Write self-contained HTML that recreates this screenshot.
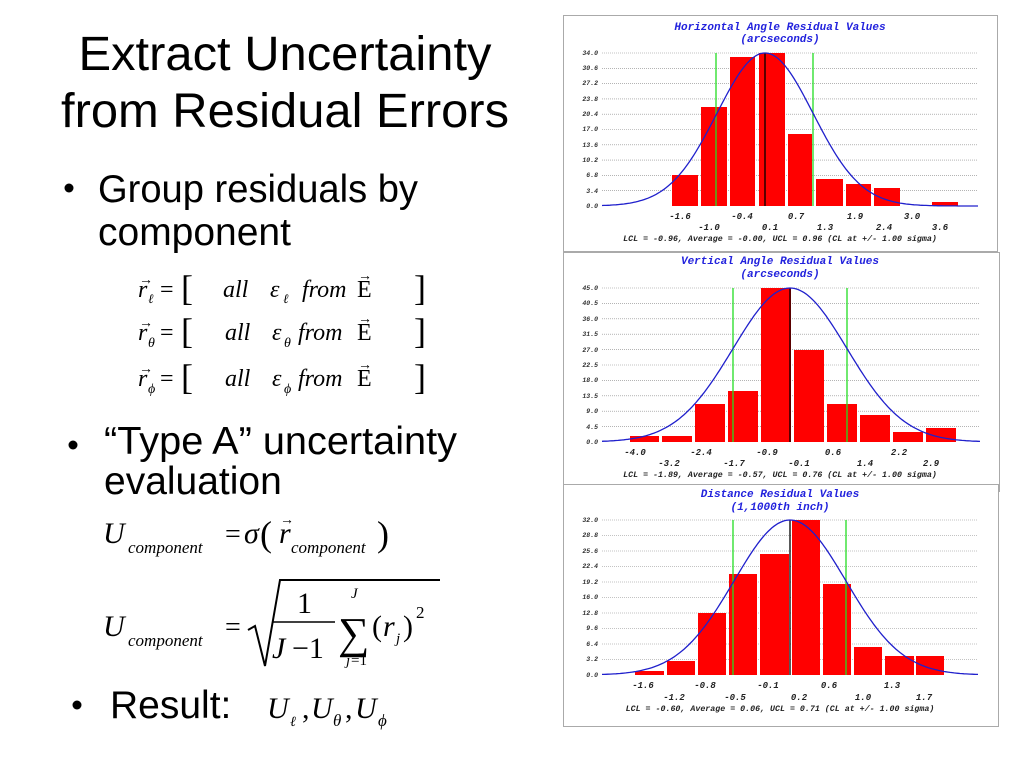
<!DOCTYPE html>
<html><head><meta charset="utf-8"><style>
html,body{margin:0;padding:0;background:#fff;width:1024px;height:768px;overflow:hidden}
svg{display:block}
.t{font-family:"Liberation Sans",Arial,sans-serif;fill:#000}
.m{font-family:"Liberation Serif",serif;font-style:italic;fill:#000}
.r{font-family:"Liberation Serif",serif;fill:#000}
.ti{font-family:"Liberation Mono",monospace;font-weight:bold;font-style:italic;fill:#2222dd;font-size:11px}
.yl{font-family:"Liberation Mono",monospace;font-weight:bold;font-style:italic;fill:#333;font-size:6.5px}
.xl{font-family:"Liberation Mono",monospace;font-weight:bold;font-style:italic;fill:#222;font-size:9px}
.ft{font-family:"Liberation Mono",monospace;font-weight:bold;font-style:italic;fill:#222;font-size:8.3px}
.g{stroke:#888;stroke-width:0.6;stroke-dasharray:1 1}
.bar{fill:#ff0000}
</style></head><body>
<svg width="1024" height="768" viewBox="0 0 1024 768" xmlns="http://www.w3.org/2000/svg">
<text class="t" x="285" y="70" font-size="48" text-anchor="middle" textLength="413" lengthAdjust="spacingAndGlyphs">Extract Uncertainty</text>
<text class="t" x="285" y="127" font-size="48" text-anchor="middle" textLength="448" lengthAdjust="spacingAndGlyphs">from Residual Errors</text>
<circle cx="69" cy="188" r="4.5"/>
<text class="t" x="98" y="202" font-size="39" textLength="320" lengthAdjust="spacingAndGlyphs">Group residuals by</text>
<text class="t" x="98" y="245" font-size="39">component</text>

<g font-size="24">
<text class="m" x="138" y="297">r</text><text x="139" y="284" class="r" font-size="14">→</text><text class="m" x="148" y="303" font-size="13">ℓ</text>
<text class="r" x="160" y="297">=</text><text class="r" x="181" y="300" font-size="36">[</text>
<text class="m" x="223" y="297">all</text><text class="m" x="270" y="297">ε</text><text class="m" x="283" y="303" font-size="13">ℓ</text>
<text class="m" x="302" y="297">from</text><text class="r" x="357" y="297">E</text><text class="r" x="358" y="280" font-size="14">→</text>
<text class="r" x="414" y="300" font-size="36">]</text>

<text class="m" x="138" y="340">r</text><text x="139" y="327" class="r" font-size="14">→</text><text class="m" x="148" y="347" font-size="14">θ</text>
<text class="r" x="160" y="340">=</text><text class="r" x="181" y="343" font-size="36">[</text>
<text class="m" x="225" y="340">all</text><text class="m" x="272" y="340">ε</text><text class="m" x="284" y="347" font-size="14">θ</text>
<text class="m" x="298" y="340">from</text><text class="r" x="357" y="340">E</text><text class="r" x="358" y="323" font-size="14">→</text>
<text class="r" x="414" y="343" font-size="36">]</text>

<text class="m" x="138" y="386">r</text><text x="139" y="373" class="r" font-size="14">→</text><text class="m" x="148" y="393" font-size="14">ϕ</text>
<text class="r" x="160" y="386">=</text><text class="r" x="181" y="389" font-size="36">[</text>
<text class="m" x="225" y="386">all</text><text class="m" x="272" y="386">ε</text><text class="m" x="284" y="393" font-size="14">ϕ</text>
<text class="m" x="298" y="386">from</text><text class="r" x="357" y="386">E</text><text class="r" x="358" y="369" font-size="14">→</text>
<text class="r" x="414" y="389" font-size="36">]</text>
</g>

<circle cx="73" cy="445" r="4.5"/>
<text class="t" x="104" y="454" font-size="39" textLength="353" lengthAdjust="spacingAndGlyphs">“Type A” uncertainty</text>
<text class="t" x="104" y="494" font-size="39">evaluation</text>

<text class="m" x="103" y="543" font-size="30">U</text>
<text class="m" x="128" y="553" font-size="17">component</text>
<text class="r" x="225" y="543" font-size="28">=</text>
<text class="m" x="244" y="543" font-size="30">σ</text>
<text class="r" x="260" y="546" font-size="36">(</text>
<text class="m" x="279" y="543" font-size="30">r</text><text class="r" x="280" y="524" font-size="14">→</text>
<text class="m" x="291" y="553" font-size="17">component</text>
<text class="r" x="377" y="546" font-size="36">)</text>

<text class="m" x="103" y="636" font-size="30">U</text>
<text class="m" x="128" y="646" font-size="17">component</text>
<text class="r" x="225" y="636" font-size="28">=</text>
<path d="M248 630 L255 626 L265 666 L280 580 L440 580" fill="none" stroke="#000" stroke-width="2"/>
<text class="r" x="297" y="613" font-size="30">1</text>
<line x1="272" y1="622" x2="335" y2="622" stroke="#000" stroke-width="1.6"/>
<text class="m" x="272" y="658" font-size="30">J</text><text class="r" x="292" y="658" font-size="30">−1</text>
<text class="r" x="338" y="648" font-size="44">∑</text>
<text class="m" x="351" y="598" font-size="15">J</text>
<text class="m" x="346" y="665" font-size="15">j</text><text class="r" x="351" y="665" font-size="15">=1</text>
<text class="r" x="372" y="636" font-size="30">(</text><text class="m" x="383" y="636" font-size="30">r</text><text class="m" x="396" y="643" font-size="15">j</text><text class="r" x="403" y="636" font-size="30">)</text><text class="r" x="416" y="618" font-size="17">2</text>

<circle cx="77" cy="705" r="4.5"/>
<text class="t" x="110" y="718" font-size="39">Result:</text>
<text class="m" x="267" y="718" font-size="30">U</text><text class="m" x="290" y="726" font-size="14">ℓ</text>
<text class="r" x="302" y="718" font-size="30">,</text>
<text class="m" x="311" y="718" font-size="30">U</text><text class="m" x="333" y="726" font-size="17">θ</text>
<text class="r" x="345" y="718" font-size="30">,</text>
<text class="m" x="355" y="718" font-size="30">U</text><text class="m" x="378" y="726" font-size="17">ϕ</text>

<!-- Chart 1 -->
<rect x="563.5" y="15.5" width="434" height="236" fill="#fff" stroke="#aaa"/>
<text class="ti" x="780" y="30" text-anchor="middle">Horizontal Angle Residual Values</text>
<text class="ti" x="780" y="42" text-anchor="middle">(arcseconds)</text>
<g class="yl" text-anchor="end">
<text x="598" y="55">34.0</text><text x="598" y="70">30.6</text><text x="598" y="85">27.2</text><text x="598" y="101">23.8</text><text x="598" y="116">20.4</text><text x="598" y="131">17.0</text><text x="598" y="147">13.6</text><text x="598" y="162">10.2</text><text x="598" y="177">6.8</text><text x="598" y="193">3.4</text><text x="598" y="208">0.0</text>
</g>
<g class="g"><line x1="602" x2="977" y1="53" y2="53"/><line x1="602" x2="977" y1="68.3" y2="68.3"/><line x1="602" x2="977" y1="83.6" y2="83.6"/><line x1="602" x2="977" y1="98.9" y2="98.9"/><line x1="602" x2="977" y1="114.2" y2="114.2"/><line x1="602" x2="977" y1="129.5" y2="129.5"/><line x1="602" x2="977" y1="144.8" y2="144.8"/><line x1="602" x2="977" y1="160.1" y2="160.1"/><line x1="602" x2="977" y1="175.4" y2="175.4"/><line x1="602" x2="977" y1="190.7" y2="190.7"/></g>
<g class="bar">
<rect x="672" y="175" width="26" height="31"/><rect x="701" y="107" width="26" height="99"/><rect x="730" y="57" width="25" height="149"/><rect x="759" y="53" width="26" height="153"/><rect x="788" y="134" width="24" height="72"/><rect x="816" y="179" width="27" height="27"/><rect x="846" y="184" width="25" height="22"/><rect x="874" y="188" width="26" height="18"/><rect x="932" y="202" width="26" height="4"/>
</g>
<line x1="716" y1="53" x2="716" y2="206" stroke="#22dd22" stroke-width="1.3"/>
<line x1="813" y1="53" x2="813" y2="206" stroke="#22dd22" stroke-width="1.3"/>
<line x1="765" y1="53" x2="765" y2="206" stroke="#000" stroke-width="1.3"/>
<path id="c1" fill="none" stroke="#2020cc" stroke-width="1.3"/>
<g class="xl" text-anchor="middle">
<text x="680" y="219">-1.6</text><text x="742" y="219">-0.4</text><text x="796" y="219">0.7</text><text x="855" y="219">1.9</text><text x="912" y="219">3.0</text>
<text x="709" y="230">-1.0</text><text x="770" y="230">0.1</text><text x="825" y="230">1.3</text><text x="884" y="230">2.4</text><text x="940" y="230">3.6</text>
</g>
<text class="ft" x="780" y="241" text-anchor="middle">LCL = -0.96, Average = -0.00, UCL = 0.96  (CL at +/- 1.00 sigma)</text>

<!-- Chart 2 -->
<rect x="563.5" y="252.5" width="436" height="239" fill="#fff" stroke="#aaa"/>
<text class="ti" x="780" y="264" text-anchor="middle">Vertical Angle Residual Values</text>
<text class="ti" x="780" y="277" text-anchor="middle">(arcseconds)</text>
<g class="yl" text-anchor="end">
<text x="598" y="290">45.0</text><text x="598" y="305">40.5</text><text x="598" y="321">36.0</text><text x="598" y="336">31.5</text><text x="598" y="352">27.0</text><text x="598" y="367">22.5</text><text x="598" y="382">18.0</text><text x="598" y="398">13.5</text><text x="598" y="413">9.0</text><text x="598" y="429">4.5</text><text x="598" y="444">0.0</text>
</g>
<g class="g"><line x1="602" x2="979" y1="288" y2="288"/><line x1="602" x2="979" y1="303.4" y2="303.4"/><line x1="602" x2="979" y1="318.8" y2="318.8"/><line x1="602" x2="979" y1="334.2" y2="334.2"/><line x1="602" x2="979" y1="349.6" y2="349.6"/><line x1="602" x2="979" y1="365" y2="365"/><line x1="602" x2="979" y1="380.4" y2="380.4"/><line x1="602" x2="979" y1="395.8" y2="395.8"/><line x1="602" x2="979" y1="411.2" y2="411.2"/><line x1="602" x2="979" y1="426.6" y2="426.6"/></g>
<g class="bar">
<rect x="630" y="436" width="29" height="6"/><rect x="662" y="436" width="30" height="6"/><rect x="695" y="404" width="30" height="38"/><rect x="728" y="391" width="30" height="51"/><rect x="761" y="288" width="30" height="154"/><rect x="794" y="350" width="30" height="92"/><rect x="827" y="404" width="30" height="38"/><rect x="860" y="415" width="30" height="27"/><rect x="893" y="432" width="30" height="10"/><rect x="926" y="428" width="30" height="14"/>
</g>
<line x1="733" y1="288" x2="733" y2="442" stroke="#22dd22" stroke-width="1.3"/>
<line x1="847" y1="288" x2="847" y2="442" stroke="#22dd22" stroke-width="1.3"/>
<line x1="790" y1="288" x2="790" y2="442" stroke="#000" stroke-width="1.3"/>
<path id="c2" fill="none" stroke="#2020cc" stroke-width="1.3"/>
<g class="xl" text-anchor="middle">
<text x="635" y="455">-4.0</text><text x="701" y="455">-2.4</text><text x="767" y="455">-0.9</text><text x="833" y="455">0.6</text><text x="899" y="455">2.2</text>
<text x="669" y="466">-3.2</text><text x="734" y="466">-1.7</text><text x="799" y="466">-0.1</text><text x="865" y="466">1.4</text><text x="931" y="466">2.9</text>
</g>
<text class="ft" x="780" y="477" text-anchor="middle">LCL = -1.89, Average = -0.57, UCL = 0.76  (CL at +/- 1.00 sigma)</text>

<!-- Chart 3 -->
<rect x="563.5" y="484.5" width="435" height="242" fill="#fff" stroke="#aaa"/>
<text class="ti" x="780" y="497" text-anchor="middle">Distance Residual Values</text>
<text class="ti" x="780" y="510" text-anchor="middle">(1,1000th inch)</text>
<g class="yl" text-anchor="end">
<text x="598" y="522">32.0</text><text x="598" y="537">28.8</text><text x="598" y="553">25.6</text><text x="598" y="568">22.4</text><text x="598" y="584">19.2</text><text x="598" y="599">16.0</text><text x="598" y="615">12.8</text><text x="598" y="630">9.6</text><text x="598" y="646">6.4</text><text x="598" y="661">3.2</text><text x="598" y="677">0.0</text>
</g>
<g class="g"><line x1="602" x2="977" y1="520" y2="520"/><line x1="602" x2="977" y1="535.5" y2="535.5"/><line x1="602" x2="977" y1="551" y2="551"/><line x1="602" x2="977" y1="566.5" y2="566.5"/><line x1="602" x2="977" y1="582" y2="582"/><line x1="602" x2="977" y1="597.5" y2="597.5"/><line x1="602" x2="977" y1="613" y2="613"/><line x1="602" x2="977" y1="628.5" y2="628.5"/><line x1="602" x2="977" y1="644" y2="644"/><line x1="602" x2="977" y1="659.5" y2="659.5"/></g>
<g class="bar">
<rect x="635" y="671" width="29" height="4"/><rect x="667" y="661" width="28" height="14"/><rect x="698" y="613" width="28" height="62"/><rect x="729" y="574" width="28" height="101"/><rect x="760" y="554" width="29" height="121"/><rect x="792" y="520" width="28" height="155"/><rect x="823" y="584" width="28" height="91"/><rect x="854" y="647" width="28" height="28"/><rect x="885" y="656" width="29" height="19"/><rect x="916" y="656" width="28" height="19"/>
</g>
<line x1="733" y1="520" x2="733" y2="675" stroke="#22dd22" stroke-width="1.3"/>
<line x1="846" y1="520" x2="846" y2="675" stroke="#22dd22" stroke-width="1.3"/>
<line x1="790" y1="520" x2="790" y2="675" stroke="#000" stroke-width="1.3"/>
<path id="c3" fill="none" stroke="#2020cc" stroke-width="1.3"/>
<g class="xl" text-anchor="middle">
<text x="643" y="688">-1.6</text><text x="705" y="688">-0.8</text><text x="768" y="688">-0.1</text><text x="829" y="688">0.6</text><text x="892" y="688">1.3</text>
<text x="674" y="700">-1.2</text><text x="735" y="700">-0.5</text><text x="799" y="700">0.2</text><text x="863" y="700">1.0</text><text x="924" y="700">1.7</text>
</g>
<text class="ft" x="780" y="711" text-anchor="middle">LCL = -0.60, Average = 0.06, UCL = 0.71  (CL at +/- 1.00 sigma)</text>
</svg>
<script>
function g(id,x0,x1,mu,s,top,base){var d="";for(var x=x0;x<=x1;x+=2){var y=base-(base-top)*Math.exp(-((x-mu)*(x-mu))/(2*s*s));d+=(x==x0?"M":"L")+x+" "+y.toFixed(1)+" ";}document.getElementById(id).setAttribute("d",d);}
g("c1",602,978,765,48,53,206);
g("c2",602,980,790,57,288,442);
g("c3",602,978,790,56,520,675);
</script>
</body></html>
